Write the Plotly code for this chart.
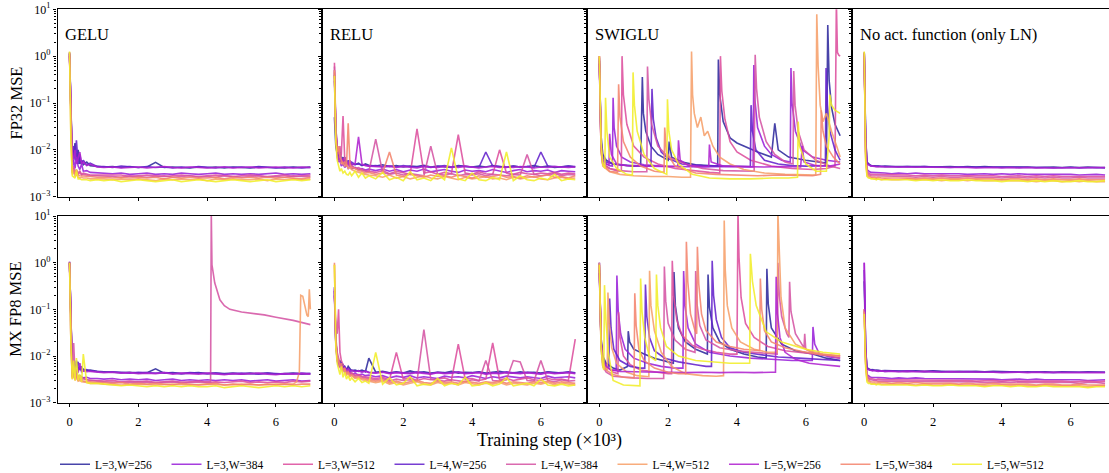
import plotly.graph_objects as go

# ---------------- labels / styling data ----------------
SERIES = ["L=3,W=256", "L=3,W=384", "L=3,W=512", "L=4,W=256", "L=4,W=384",
          "L=4,W=512", "L=5,W=256", "L=5,W=384", "L=5,W=512"]
COLORS = ["#2f2b9e", "#9a22da", "#dd4f9e", "#6422cc", "#d555a4",
          "#f7a06a", "#b023d0", "#f4856e", "#f2ee2a"]
PANEL_TITLES = ["GELU", "RELU", "SWIGLU", "No act. function (only LN)"]
ROW_TITLES = ["FP32 MSE", "MX FP8 MSE"]
X_TITLE = "Training step (×10³)"
X_TICKS = [0, 2, 4, 6]
Y_TICK_VALS = [1e-3, 1e-2, 1e-1, 1e0, 1e1]
Y_TICK_TEXT = ["10<sup>−3</sup>", "10<sup>−2</sup>", "10<sup>−1</sup>", "10<sup>0</sup>", "10<sup>1</sup>"]
Y_MINOR = [m * 10.0 ** e for e in (-3, -2, -1, 0) for m in range(2, 10)]
UNIT = 1e-3  # all MSE values below are stored in units of 1e-3

# ---------------- x grids (training step, x1e3) ----------------
XF = [0, 0.04, 0.08, 0.12, 0.16, 0.2, 0.25, 0.3, 0.35, 0.4, 0.5, 0.6, 0.8,
      1.0, 1.25, 1.5, 1.75, 2.0, 2.25, 2.5, 2.75, 3.0, 3.25, 3.5, 3.75, 4.0,
      4.25, 4.5, 4.75, 5.0, 5.25, 5.5, 5.75, 6.0, 6.25, 6.5, 6.75, 7.0]
XR = [0, 0.04, 0.08, 0.12, 0.16, 0.2, 0.25, 0.3, 0.35, 0.4, 0.45, 0.5, 0.6, 0.7, 0.8, 0.9, 1.0,
      1.2, 1.4, 1.6, 1.8, 2.0, 2.2, 2.4, 2.6, 2.8, 3.0, 3.2, 3.4, 3.6, 3.8, 4.0, 4.2, 4.4,
      4.6, 4.8, 5.0, 5.2, 5.4, 5.6, 5.8, 6.0, 6.2, 6.4, 6.6, 6.8, 7.0]

# ---------------- GELU FP32 (x = XF) ----------------
GELU_FP32 = [
    [1200, 50, 6, 9, 14, 6, 10, 5, 6, 4.8, 5.5, 4.6, 4.4,
     4.3, 4.4, 4.2, 4.4, 4.2, 4.3, 5.4, 4.2, 4.3, 4.2, 4.1, 4.3, 4.2, 4.3, 4.1, 4.3, 4.2, 4.1, 4.3, 4.2, 4.2, 4.1, 4.3, 4.2, 4.3],
    [1150, 30, 4, 6, 4, 7, 4.5, 3.8, 5, 3.5, 3.6, 3.3, 3.2,
     3.2, 3.1, 3.2, 3.0, 3.1, 3.2, 3.0, 3.1, 3.0, 3.2, 3.1, 3.0, 3.1, 3.2, 3.0, 3.1, 3.0, 3.1, 3.0, 3.1, 3.2, 3.0, 3.1, 3.0, 3.1],
    [1200, 25, 3.6, 4.5, 3.3, 3.8, 3.2, 3.5, 3.0, 3.2, 3.0, 2.9, 2.9,
     2.9, 2.8, 2.9, 2.7, 2.8, 2.9, 2.8, 2.7, 2.8, 2.9, 2.8, 2.7, 2.8, 2.9, 2.8, 2.7, 2.8, 2.9, 2.8, 2.7, 2.8, 2.9, 2.7, 2.8, 2.9],
    [1100, 40, 5, 12, 6, 16, 5, 8, 5, 6, 4.7, 5.2, 4.4,
     4.4, 4.2, 4.5, 4.3, 4.2, 4.4, 4.2, 4.3, 4.1, 4.3, 4.2, 4.4, 4.2, 4.1, 4.3, 4.2, 4.3, 4.2, 4.4, 4.2, 4.1, 4.3, 4.2, 4.1, 4.2],
    [1100, 22, 3.4, 4, 3.2, 3.6, 3.0, 3.3, 2.9, 3.0, 2.9, 2.8, 2.8,
     2.8, 2.7, 2.6, 2.8, 2.7, 2.6, 2.7, 2.8, 2.6, 2.7, 2.8, 2.6, 2.7, 2.6, 2.8, 2.7, 2.6, 2.7, 2.8, 2.6, 2.7, 2.6, 2.8, 2.7, 2.7],
    [1200, 18, 3.0, 3.4, 2.7, 3.0, 2.6, 2.5, 2.6, 2.5, 2.5, 2.4, 2.4,
     2.4, 2.3, 2.4, 2.3, 2.4, 2.3, 2.2, 2.4, 2.3, 2.4, 2.3, 2.4, 2.2, 2.4, 2.3, 2.4, 2.3, 2.3, 2.4, 2.2, 2.4, 2.3, 2.4, 2.3, 2.4],
    [1000, 35, 5.5, 7, 10, 5, 7, 9, 5, 5.5, 4.6, 4.9, 4.3,
     4.2, 4.3, 4.1, 4.2, 4.3, 4.1, 4.2, 4.4, 4.2, 4.1, 4.3, 4.2, 4.1, 4.2, 4.3, 4.1, 4.2, 4.3, 4.1, 4.2, 4.3, 4.2, 4.1, 4.3, 4.2],
    [1000, 20, 3.2, 3.8, 3.0, 3.4, 2.9, 2.8, 2.8, 2.7, 2.7, 2.7, 2.6,
     2.6, 2.5, 2.6, 2.5, 2.6, 2.5, 2.6, 2.4, 2.6, 2.5, 2.6, 2.5, 2.5, 2.6, 2.4, 2.6, 2.5, 2.6, 2.5, 2.6, 2.5, 2.6, 2.5, 2.4, 2.6],
    [1250, 15, 2.8, 2.6, 2.5, 3.8, 2.4, 2.4, 2.3, 2.3, 2.3, 2.2, 2.3,
     2.2, 2.3, 2.1, 2.2, 2.3, 2.2, 2.1, 2.2, 2.3, 2.1, 2.2, 2.3, 2.2, 2.1, 2.2, 2.3, 2.2, 2.1, 2.2, 2.3, 2.1, 2.2, 2.3, 2.2, 2.3],
]

# ---------------- GELU MX FP8 (x = XF, except series 5 and 6) ----------------
GELU8_S5_X = XF[:13] + [1.0, 1.5, 2.0, 2.5, 3.0, 3.5, 4.0, 4.1, 4.12, 4.14, 4.22, 4.3, 4.37,
                        4.5, 4.66, 5.0, 5.33, 5.66, 6.0, 6.5, 7.0]
GELU8_S6_X = XF[:13] + [1.0, 1.5, 2.0, 2.5, 3.0, 3.5, 4.0, 4.5, 5.0, 5.5, 6.0, 6.5, 6.6,
                        6.68, 6.72, 6.78, 6.84, 6.9, 6.94, 6.97, 7.0]
GELU_FP8 = [
    [1000, 40, 5, 7, 4.6, 8, 5, 6, 4.8, 5.2, 4.9, 5.0, 4.7,
     4.6, 4.5, 4.4, 4.5, 4.3, 4.4, 5.3, 4.3, 4.4, 4.2, 4.3, 4.4, 4.2, 4.3, 4.2, 4.3, 4.1, 4.3, 4.2, 4.3, 4.1, 4.2, 4.3, 4.1, 4.2],
    [1000, 25, 3.8, 5, 3.6, 4.5, 3.5, 3.8, 3.6, 3.4, 3.5, 3.3, 3.3,
     3.2, 3.3, 3.1, 3.2, 3.1, 3.2, 3.0, 3.1, 3.2, 3.0, 3.1, 3.0, 3.1, 3.0, 3.1, 3.0, 3.1, 2.9, 3.0, 3.1, 2.9, 3.0, 3.1, 2.9, 3.0],
    [1050, 22, 3.6, 4.4, 3.4, 3.8, 3.3, 3.6, 3.2, 3.3, 3.1, 3.0, 3.0,
     2.9, 3.0, 2.8, 2.9, 2.8, 2.9, 2.7, 2.8, 2.9, 2.7, 2.8, 2.9, 2.7, 2.8, 2.7, 2.8, 2.9, 2.7, 2.8, 2.7, 2.8, 2.7, 2.9, 2.8, 2.9],
    [1050, 35, 4.5, 8, 5, 6.5, 7.5, 5, 6, 4.9, 5.1, 4.8, 4.6,
     4.5, 4.6, 4.4, 4.3, 4.5, 4.4, 4.3, 4.4, 4.3, 4.2, 4.4, 4.3, 4.2, 4.3, 4.1, 4.2, 4.3, 4.2, 4.1, 4.3, 4.2, 4.1, 4.2, 4.3, 4.2],
    [1000, 20, 3.6, 19, 4, 5, 3.4, 3.6, 3.2, 3.3, 3.1, 3.0, 2.9,
     2.8, 2.7, 2.8, 2.7, 2.8, 2.7, 2.8, 2.8, 12000, 900, 370, 220, 160, 120, 100, 88, 82, 76, 68, 58, 47],
    [1000, 18, 3.2, 4, 3.0, 3.5, 2.9, 3.0, 2.8, 2.8, 2.7, 2.6, 2.6,
     2.5, 2.4, 2.5, 2.4, 2.5, 2.4, 2.5, 2.4, 2.5, 2.4, 2.5, 2.5, 2.8, 4.5, 200, 190, 120, 75, 70, 270, 100],
    [980, 30, 4.2, 6, 4.5, 5, 4.4, 7, 4.6, 4.8, 4.6, 4.7, 4.5,
     4.4, 4.5, 4.3, 4.4, 4.2, 4.3, 4.2, 4.4, 4.1, 4.3, 4.2, 4.1, 4.3, 4.2, 4.0, 4.2, 4.1, 4.2, 4.3, 4.1, 4.0, 4.2, 4.1, 4.2, 4.1],
    [1000, 20, 3.4, 6, 3.2, 4, 3.0, 3.3, 3.0, 2.9, 2.8, 2.8, 2.7,
     2.7, 2.6, 2.7, 2.5, 2.6, 2.5, 2.6, 2.5, 2.4, 2.6, 2.5, 2.4, 2.5, 2.6, 2.4, 2.5, 2.4, 2.5, 2.4, 2.5, 2.4, 2.5, 2.4, 2.5, 2.5],
    [1000, 18, 3.2, 8, 3.0, 9, 3.0, 4, 2.8, 11, 2.7, 2.6, 2.6,
     2.5, 2.4, 2.3, 2.4, 2.3, 2.2, 2.3, 2.2, 2.3, 2.2, 2.3, 2.2, 2.2, 2.3, 2.1, 2.2, 2.3, 2.2, 2.1, 2.2, 2.3, 2.2, 2.3, 2.2, 2.3],
]

# ---------------- No activation (x = XF) ----------------
NOACT_FP32 = [
    [1200, 20, 5.5, 5.0, 4.8, 4.6, 4.6, 4.5, 4.5, 4.5, 4.4, 4.5, 4.4,
     4.4, 4.5, 4.4, 4.4, 4.3, 4.4, 4.4, 4.3, 4.4, 4.3, 4.4, 4.3, 4.3, 4.4, 4.3, 4.3, 4.2, 4.3, 4.3, 4.2, 4.3, 4.2, 4.3, 4.2, 4.2],
    [1150, 12, 3.8, 3.5, 3.4, 3.3, 3.3, 3.2, 3.3, 3.2, 3.2, 3.2, 3.1,
     3.2, 3.1, 3.2, 3.1, 3.1, 3.2, 3.1, 3.1, 3.0, 3.1, 3.1, 3.0, 3.1, 3.0, 3.1, 3.0, 3.0, 3.1, 3.0, 3.0, 3.0, 2.9, 3.0, 3.0, 2.9],
    [1200, 10, 3.4, 3.2, 3.1, 3.0, 3.0, 2.9, 3.0, 2.9, 2.9, 2.9, 2.9,
     2.9, 2.9, 2.8, 2.9, 2.8, 2.9, 2.8, 2.8, 2.9, 2.8, 2.8, 2.8, 2.7, 2.8, 2.8, 2.7, 2.8, 2.7, 2.8, 2.7, 2.7, 2.8, 2.7, 2.7, 2.7],
    [1100, 18, 5.2, 4.9, 4.7, 4.6, 4.5, 4.5, 4.4, 4.5, 4.4, 4.4, 4.4,
     4.3, 4.4, 4.3, 4.4, 4.3, 4.3, 4.2, 4.3, 4.3, 4.2, 4.3, 4.2, 4.3, 4.2, 4.2, 4.3, 4.2, 4.2, 4.1, 4.2, 4.2, 4.1, 4.2, 4.2, 4.1],
    [1100, 9, 3.2, 3.0, 2.9, 2.8, 2.8, 2.8, 2.7, 2.8, 2.7, 2.7, 2.7,
     2.7, 2.7, 2.6, 2.7, 2.6, 2.7, 2.6, 2.6, 2.7, 2.6, 2.6, 2.6, 2.5, 2.6, 2.6, 2.5, 2.6, 2.5, 2.6, 2.5, 2.5, 2.6, 2.5, 2.5, 2.5],
    [1200, 7, 2.8, 2.6, 2.5, 2.5, 2.4, 2.4, 2.4, 2.4, 2.3, 2.4, 2.3,
     2.3, 2.4, 2.3, 2.3, 2.3, 2.2, 2.3, 2.3, 2.2, 2.3, 2.2, 2.2, 2.3, 2.2, 2.2, 2.2, 2.1, 2.2, 2.2, 2.1, 2.2, 2.1, 2.2, 2.1, 2.1],
    [1000, 16, 5.0, 4.8, 4.6, 4.5, 4.5, 4.4, 4.4, 4.3, 4.4, 4.3, 4.3,
     4.3, 4.3, 4.2, 4.3, 4.2, 4.2, 4.3, 4.2, 4.2, 4.1, 4.2, 4.2, 4.1, 4.2, 4.1, 4.2, 4.1, 4.1, 4.2, 4.1, 4.1, 4.2, 4.1, 4.1, 4.2],
    [1000, 8, 3.0, 2.8, 2.7, 2.6, 2.6, 2.6, 2.5, 2.6, 2.5, 2.5, 2.5,
     2.5, 2.5, 2.4, 2.5, 2.4, 2.5, 2.4, 2.4, 2.5, 2.4, 2.4, 2.4, 2.3, 2.4, 2.4, 2.3, 2.4, 2.3, 2.4, 2.3, 2.3, 2.4, 2.3, 2.3, 2.3],
    [1250, 6, 2.7, 2.5, 2.5, 2.4, 2.4, 2.4, 2.3, 2.4, 2.3, 2.3, 2.3,
     2.3, 2.3, 2.2, 2.3, 2.2, 2.3, 2.2, 2.2, 2.3, 2.2, 2.2, 2.2, 2.1, 2.2, 2.2, 2.1, 2.2, 2.1, 2.2, 2.1, 2.1, 2.2, 2.1, 2.1, 2.2],
]
NOACT_FP8 = [
    [400, 15, 5.6, 5.4, 5.2, 5.0, 5.1, 4.9, 5.0, 4.9, 4.8, 4.9, 4.8,
     4.8, 4.7, 4.8, 4.7, 4.8, 4.7, 4.6, 4.7, 4.6, 4.7, 4.6, 4.7, 4.6, 4.6, 4.5, 4.6, 4.5, 4.6, 4.5, 4.6, 4.5, 4.5, 4.6, 4.5, 4.5],
    [1000, 10, 4.0, 3.7, 3.6, 3.5, 3.5, 3.4, 3.5, 3.4, 3.4, 3.4, 3.3,
     3.4, 3.3, 3.4, 3.3, 3.3, 3.3, 3.2, 3.3, 3.2, 3.3, 3.2, 3.2, 3.1, 3.2, 3.2, 3.1, 3.2, 3.1, 3.1, 3.2, 3.1, 3.1, 3.0, 3.1, 3.1],
    [100, 9, 3.7, 3.4, 3.3, 3.3, 3.2, 3.2, 3.1, 3.2, 3.1, 3.1, 3.1,
     3.1, 3.1, 3.0, 3.1, 3.0, 3.0, 3.1, 3.0, 3.0, 2.9, 3.0, 3.0, 2.9, 3.0, 2.9, 2.9, 3.0, 2.9, 2.9, 2.9, 2.8, 2.9, 2.9, 2.8, 2.9],
    [700, 14, 5.4, 5.2, 5.0, 5.1, 4.9, 5.0, 4.8, 4.9, 4.8, 4.7, 4.8,
     4.7, 4.8, 4.7, 4.6, 4.7, 4.6, 4.7, 4.6, 4.7, 4.6, 4.5, 4.6, 4.5, 4.6, 4.5, 4.5, 4.6, 4.5, 4.4, 4.5, 4.5, 4.4, 4.5, 4.4, 4.5],
    [100, 8, 3.5, 3.2, 3.1, 3.1, 3.0, 3.0, 3.0, 2.9, 2.9, 2.9, 2.9,
     2.9, 2.9, 2.8, 2.9, 2.8, 2.8, 2.9, 2.8, 2.8, 2.8, 2.7, 2.8, 2.8, 2.7, 2.8, 2.7, 2.7, 2.8, 2.7, 2.7, 2.7, 2.6, 2.7, 2.7, 2.6],
    [100, 7, 3.0, 2.8, 2.7, 2.6, 2.6, 2.6, 2.5, 2.6, 2.5, 2.5, 2.5,
     2.5, 2.5, 2.4, 2.5, 2.4, 2.4, 2.5, 2.4, 2.4, 2.4, 2.3, 2.4, 2.4, 2.3, 2.4, 2.3, 2.3, 2.4, 2.3, 2.3, 2.3, 2.3, 2.2, 2.3, 2.3],
    [1000, 13, 5.3, 5.1, 5.0, 4.9, 4.8, 4.9, 4.8, 4.7, 4.8, 4.7, 4.7,
     4.6, 4.7, 4.6, 4.7, 4.6, 4.5, 4.6, 4.6, 4.5, 4.6, 4.5, 4.5, 4.4, 4.5, 4.5, 4.4, 4.5, 4.4, 4.5, 4.4, 4.4, 4.5, 4.4, 4.4, 4.4],
    [90, 7, 3.2, 3.0, 2.9, 2.8, 2.8, 2.8, 2.7, 2.7, 2.7, 2.7, 2.6,
     2.7, 2.6, 2.7, 2.6, 2.6, 2.6, 2.6, 2.5, 2.6, 2.5, 2.5, 2.6, 2.5, 2.5, 2.5, 2.5, 2.4, 2.5, 2.5, 2.4, 2.4, 2.5, 2.4, 2.4, 2.4],
    [80, 6, 2.8, 2.6, 2.6, 2.5, 2.5, 2.5, 2.4, 2.5, 2.4, 2.4, 2.4,
     2.4, 2.4, 2.3, 2.4, 2.3, 2.3, 2.4, 2.3, 2.3, 2.3, 2.2, 2.3, 2.3, 2.2, 2.3, 2.2, 2.2, 2.3, 2.2, 2.2, 2.2, 2.2, 2.1, 2.2, 2.2],
]

# ---------------- RELU (x = XR) ----------------
RELU_FP32 = [
    [50, 12, 8, 6.5, 9, 5.5, 7, 5, 6, 4.8, 5.5, 5, 4.8, 5.2, 4.6, 5, 4.7,
     4.5, 4.8, 4.4, 4.6, 4.3, 4.5, 4.4, 4.7, 4.3, 4.5, 4.4, 4.2, 4.6, 4.4, 4.3,
     4.5, 4.3, 4.6, 4.4, 4.2, 4.5, 4.3, 4.4, 4.6, 4.3, 4.5, 4.2, 4.4, 4.5, 4.3],
    [500, 20, 7, 5.5, 6, 4.5, 5, 4.2, 4.8, 4, 4.5, 3.9, 4.2, 3.8, 4, 3.7, 3.9,
     3.6, 3.9, 3.5, 3.8, 3.4, 3.7, 3.5, 3.9, 3.4, 3.6, 3.8, 3.5, 3.3, 3.7, 3.5,
     3.6, 3.4, 3.8, 3.5, 3.3, 3.6, 3.8, 3.4, 3.6, 3.5, 3.7, 3.3, 3.6, 3.5, 3.4],
    [720, 30, 12, 9, 7, 8, 53, 6, 4.5, 5, 4.2, 4.5, 4, 4.2, 3.8, 3.6, 3.5,
     3.3, 3.6, 3.1, 3.5, 3.2, 3.0, 28, 3.2, 3.4, 3.0, 3.3, 3.1, 21, 3.2, 3.0,
     3.4, 3.1, 3.0, 10, 3.2, 3.0, 3.3, 3.1, 3.0, 3.2, 3.1, 3.3, 3.0, 3.2, 3.1],
    [400, 30, 10, 7, 8, 6, 5.5, 7, 5, 6, 4.8, 5.5, 4.9, 5, 4.7, 4.8, 4.5,
     4.6, 4.4, 4.5, 4.3, 4.6, 4.4, 4.3, 4.5, 4.2, 4.4, 4.6, 4.3, 4.5, 4.4, 4.3,
     4.2, 9, 4.5, 4.4, 4.3, 4.5, 4.3, 4.4, 4.2, 9, 4.5, 4.4, 4.3, 4.5, 4.4],
    [600, 25, 10, 8, 12, 6, 5.5, 7, 4.8, 5, 4.3, 4.6, 4, 3.8, 3.6, 3.5, 3.4,
     17, 3.3, 3.0, 3.2, 2.9, 3.1, 3.0, 2.8, 12, 3.0, 2.9, 3.1, 2.8, 3.0, 2.9,
     3.1, 2.8, 3.0, 2.9, 2.8, 3.0, 2.9, 8, 3.0, 2.8, 2.9, 3.1, 2.8, 3.0, 2.9],
    [500, 20, 8, 6, 7, 5, 5.5, 4.5, 4.8, 4, 4.2, 3.8, 3.5, 3.3, 3.1, 3.0, 2.9,
     2.8, 2.6, 2.9, 2.5, 2.7, 2.4, 2.6, 2.8, 2.5, 2.4, 2.7, 2.5, 2.3, 2.6, 2.4,
     2.5, 2.7, 2.4, 2.5, 2.3, 2.6, 2.4, 2.5, 2.7, 2.4, 2.3, 2.5, 2.6, 2.4, 2.5],
    [300, 25, 9, 6, 7, 5.5, 6.5, 5, 5.5, 5, 6, 4.8, 5, 19, 5, 4.6, 4.5,
     4.4, 4.3, 4.5, 4.2, 4.4, 4.3, 4.1, 4.4, 4.3, 4.2, 4.4, 4.3, 4.2, 4.5, 4.3,
     4.1, 4.3, 4.4, 4.2, 4.3, 4.2, 4.4, 4.3, 4.1, 4.3, 4.2, 4.4, 4.3, 4.2, 4.3],
    [450, 22, 9, 12, 7, 6, 5, 5.5, 4.5, 37, 5, 4.2, 4, 3.6, 3.5, 3.2, 3.3,
     3.0, 3.2, 9, 2.9, 2.7, 3.0, 2.8, 2.6, 2.9, 2.7, 2.8, 2.6, 2.9, 2.7, 2.5,
     2.8, 2.6, 2.7, 2.9, 2.6, 2.7, 2.5, 2.8, 2.6, 2.7, 2.9, 2.6, 2.7, 2.5, 2.8],
    [380, 15, 6, 4.5, 3.5, 4, 3.2, 3.5, 3, 2.9, 3.3, 2.8, 3.5, 2.6, 3.2, 2.5, 2.8,
     2.4, 3.3, 2.3, 2.6, 2.2, 3.4, 2.3, 2.5, 2.2, 3.0, 2.3, 11, 2.4, 2.2, 3.2,
     2.3, 2.2, 2.6, 2.3, 9, 2.2, 2.8, 2.3, 2.2, 2.5, 2.3, 3.0, 2.2, 2.4, 2.3],
]
RELU_FP8 = [
    [250, 20, 10, 7, 8, 6, 6.5, 5.5, 5, 6, 5.2, 4.8, 5, 4.7, 5, 4.6, 9,
     4.5, 4.7, 4.4, 4.6, 4.3, 4.8, 4.4, 4.6, 4.3, 4.5, 4.4, 4.7, 4.3, 4.5, 4.4,
     4.6, 4.3, 4.5, 4.7, 4.4, 4.3, 4.6, 4.4, 4.5, 4.3, 4.6, 4.4, 4.3, 4.6, 4.4],
    [200, 18, 8, 6, 7, 5, 5.5, 4.5, 5, 4.2, 4.6, 4, 4.3, 3.9, 4.1, 3.8, 3.9,
     3.6, 3.8, 3.4, 3.7, 3.5, 3.8, 3.4, 3.6, 3.5, 3.3, 3.7, 3.5, 3.6, 3.4, 3.8,
     3.5, 3.3, 3.6, 3.4, 3.7, 3.5, 3.4, 3.6, 3.5, 3.3, 3.7, 3.4, 3.5, 3.6, 3.4],
    [190, 40, 30, 100, 12, 8, 6.5, 5, 4.6, 4.8, 4.2, 4.4, 3.9, 4, 3.7, 3.6, 3.5,
     3.3, 3.5, 3.1, 12, 3.2, 3.4, 3.0, 3.3, 3.1, 3.2, 3.4, 3.0, 18, 3.2, 3.3,
     3.0, 3.2, 19, 3.1, 3.3, 3.0, 3.2, 3.4, 3.1, 3.0, 3.3, 3.1, 3.2, 3.0, 23],
    [300, 22, 9, 8, 6.5, 7, 5.5, 6, 5.2, 5.5, 4.8, 5, 4.7, 4.9, 4.6, 4.8, 4.5,
     4.4, 4.6, 4.3, 4.5, 4.4, 4.3, 4.6, 4.4, 4.2, 4.5, 4.3, 4.4, 4.6, 4.3, 4.4,
     4.5, 4.2, 4.4, 4.3, 4.6, 4.4, 4.3, 4.5, 4.4, 4.2, 4.5, 4.3, 4.4, 4.5, 4.3],
    [250, 25, 12, 9, 7, 6, 5, 5.5, 4.4, 4.6, 4, 4.2, 3.7, 3.8, 3.5, 3.4, 3.3,
     3.1, 3.3, 2.9, 3.2, 3.0, 3.1, 2.9, 37, 3.2, 3.0, 2.9, 3.1, 3.0, 2.8, 3.1,
     2.9, 8, 3.0, 2.9, 3.1, 8, 7.5, 3.0, 2.9, 8, 3.0, 2.8, 3.1, 2.9, 3.0],
    [900, 18, 9, 7, 5.5, 6, 4.6, 5, 3.9, 4.2, 3.6, 3.8, 3.3, 3.4, 3.1, 3.0, 2.9,
     2.7, 2.9, 2.5, 2.7, 2.4, 2.6, 2.8, 2.5, 2.4, 2.7, 2.5, 2.6, 2.4, 2.7, 2.5,
     2.4, 2.6, 2.5, 2.7, 2.4, 2.6, 2.5, 2.4, 2.6, 2.5, 2.7, 2.4, 2.6, 2.5, 2.4],
    [280, 20, 8, 7, 6, 6.5, 5.2, 5.6, 4.9, 5.3, 4.7, 4.9, 4.6, 4.8, 4.5, 4.7, 4.4,
     4.3, 4.5, 4.2, 4.4, 4.3, 4.2, 4.4, 4.3, 4.1, 4.4, 4.2, 4.3, 4.5, 4.2, 4.3,
     4.4, 4.1, 4.3, 4.2, 4.4, 4.3, 4.2, 4.4, 4.3, 4.1, 4.4, 4.2, 4.3, 4.4, 4.2],
    [1000, 20, 10, 8, 6, 7, 5, 5.5, 4.2, 4.5, 3.8, 4, 3.5, 3.6, 3.3, 3.2, 3.1,
     2.9, 3.1, 2.7, 2.9, 2.6, 2.8, 3.0, 2.7, 2.6, 2.9, 2.7, 2.8, 2.6, 2.9, 2.7,
     2.6, 2.8, 2.7, 2.9, 2.6, 2.8, 2.7, 2.6, 2.8, 2.7, 2.9, 2.6, 2.8, 2.7, 2.6],
    [900, 15, 7, 5, 4, 6, 3.5, 4.5, 3.2, 3.8, 3.0, 3.4, 2.8, 3.3, 2.7, 2.9, 2.6,
     12, 2.5, 3.4, 2.4, 2.6, 3.6, 2.3, 2.5, 2.4, 3.3, 2.3, 2.6, 2.4, 3.5, 2.3,
     2.4, 2.7, 2.3, 2.5, 3.4, 2.3, 2.4, 2.6, 2.3, 3.2, 2.4, 2.3, 2.5, 2.3, 2.4],
]

# ---------------- SWIGLU FP32 (per-series x) ----------------
SWIGLU_FP32_X = [
    [0, 0.05, 0.1, 0.2, 0.4, 0.6, 0.8, 1.0, 1.2, 1.25, 1.28, 1.35, 1.5, 1.7, 2.0, 2.03, 2.1, 2.4, 2.8,
     3.2, 3.44, 3.46, 3.5, 3.6, 3.8, 4.0, 4.3, 4.6, 5.0, 5.1, 5.2, 5.5, 6.0, 6.3, 6.6, 6.64, 6.68, 6.75, 6.85, 7.0],
    [0, 0.05, 0.1, 0.2, 0.3, 0.38, 0.4, 0.43, 0.5, 0.65, 0.9, 1.3, 1.8, 2.5, 3.0, 3.5, 4.0, 4.47, 4.49, 4.52,
     4.6, 4.8, 5.0, 5.3, 5.55, 5.57, 5.6, 5.7, 5.9, 6.2, 6.6, 7.0],
    [0, 0.05, 0.1, 0.3, 0.5, 0.64, 0.66, 0.7, 0.8, 1.0, 1.3, 1.7, 2.2, 2.8, 3.2, 3.5, 3.52, 3.56, 3.65, 3.8,
     4.0, 4.4, 5.0, 5.6, 6.2, 6.6, 6.85, 6.89, 6.92, 6.96, 7.0],
    [0, 0.05, 0.1, 0.2, 0.4, 0.7, 1.0, 1.3, 1.5, 1.53, 1.57, 1.65, 1.8, 2.0, 2.4, 3.0, 3.6, 4.0, 4.39, 4.41,
     4.45, 4.55, 4.8, 5.2, 5.6, 6.0, 6.3, 6.57, 6.59, 6.63, 6.7, 6.85, 7.0],
    [0, 0.05, 0.1, 0.3, 0.6, 1.0, 1.38, 1.4, 1.44, 1.52, 1.7, 2.0, 2.5, 3.0, 3.6, 4.0, 4.5, 4.53, 4.57, 4.65,
     4.85, 5.1, 5.4, 5.63, 5.65, 5.69, 5.78, 5.95, 6.3, 6.7, 7.0],
    [0, 0.05, 0.1, 0.3, 0.6, 1.0, 1.5, 2.0, 2.4, 2.65, 2.68, 2.71, 2.76, 2.85, 2.95, 3.05, 3.15, 3.3, 3.5, 3.8,
     4.2, 4.8, 5.4, 6.0, 6.29, 6.32, 6.36, 6.42, 6.5, 6.6, 6.75, 6.9, 7.0],
    [0, 0.05, 0.1, 0.2, 0.28, 0.3, 0.35, 0.5, 0.8, 1.2, 1.8, 2.28, 2.3, 2.35, 2.6, 3.0, 3.18, 3.2, 3.25, 3.6,
     4.2, 4.8, 5.3, 5.85, 5.9, 5.95, 6.3, 6.7, 7.0],
    [0, 0.05, 0.1, 0.3, 0.53, 0.56, 0.6, 0.7, 0.9, 1.2, 1.6, 1.88, 1.9, 1.95, 2.2, 2.8, 3.4, 4.0, 4.6, 5.2,
     5.8, 6.2, 6.43, 6.45, 6.5, 6.6, 6.8, 7.0],
    [0, 0.05, 0.1, 0.16, 0.18, 0.22, 0.3, 0.5, 0.8, 0.96, 0.98, 1.02, 1.1, 1.3, 1.6, 1.96, 1.98, 2.02, 2.1, 2.3,
     2.7, 3.2, 3.8, 4.4, 5.0, 5.5, 5.76, 5.78, 5.82, 6.0, 6.3, 6.6, 6.68, 6.7, 6.75, 6.85, 7.0],
]
SWIGLU_FP32_Y = [
    [800, 20, 8, 6, 5, 4.8, 4.6, 4.5, 4.6, 360, 60, 25, 12, 8, 6, 15, 7, 5.5, 4.8,
     4.6, 4.5, 850, 150, 40, 18, 14, 11, 9, 7, 37, 10, 7, 6, 5.5, 5.2, 4600, 300, 80, 35, 20],
    [1000, 15, 6, 5, 4.6, 4.5, 130, 30, 12, 7, 5.5, 4.8, 4.5, 4.4, 4.3, 4.4, 4.3, 4.3, 650, 120,
     30, 12, 8, 6, 5.5, 560, 100, 25, 10, 7, 6, 5.5],
    [1000, 12, 5, 4, 3.6, 3.5, 1000, 150, 35, 12, 7, 5, 4, 3.5, 3.3, 3.2, 1000, 180, 45, 15,
     9, 6, 4.5, 4, 3.8, 4, 4.5, 15000, 1200, 1050, 1000],
    [900, 14, 7, 5.5, 5, 4.7, 4.6, 4.5, 4.5, 200, 45, 18, 9, 6.5, 5, 4.6, 4.5, 4.4, 4.4, 90,
     25, 10, 6, 5, 4.6, 4.5, 4.6, 4.6, 560, 90, 25, 10, 6],
    [800, 10, 5, 4, 3.6, 3.4, 3.4, 600, 120, 35, 12, 7, 5, 4, 3.6, 3.5, 3.5, 1070, 200, 50,
     15, 8, 5.5, 5, 480, 90, 25, 10, 6, 4.5, 4],
    [1000, 9, 4.5, 3.4, 3, 2.8, 2.7, 2.7, 2.6, 2.6, 1260, 150, 60, 30, 50, 20, 25, 12, 7, 5,
     3.8, 3.2, 3.0, 2.9, 2.9, 7800, 600, 90, 40, 60, 25, 12, 7],
    [700, 12, 6, 5, 4.8, 22, 8, 5, 4.6, 4.5, 4.4, 4.4, 16, 6, 4.6, 4.4, 4.4, 13, 5.5, 4.5,
     4.4, 4.3, 4.4, 4.3, 12, 5.5, 4.6, 4.5, 5],
    [1000, 10, 5, 3.5, 3.3, 250, 50, 15, 7, 4.5, 3.5, 3.3, 30, 9, 4.5, 3.2, 3.0, 2.9, 2.8, 2.9,
     2.8, 2.8, 3.0, 70, 25, 12, 7, 5],
    [1000, 15, 5, 4, 130, 25, 7, 4, 3, 2.9, 450, 90, 25, 8, 4, 3, 120, 25, 10, 5,
     3, 2.5, 2.4, 2.4, 2.5, 2.5, 2.6, 40, 12, 5, 3.5, 3.5, 20, 150, 90, 70, 60],
]

# ---------------- SWIGLU MX FP8 (per-series x) ----------------
SWIGLU_FP8_X = [
    [0, 0.05, 0.1, 0.2, 0.4, 0.6, 0.82, 0.84, 0.88, 1.0, 1.3, 1.6, 2.0, 2.15, 2.17, 2.21, 2.3, 2.5, 2.8, 3.0,
     3.14, 3.16, 3.2, 3.3, 3.5, 3.8, 4.2, 4.6, 4.85, 4.87, 4.91, 5.0, 5.3, 5.7, 6.2, 6.6, 7.0],
    [0, 0.05, 0.1, 0.2, 0.35, 0.49, 0.51, 0.55, 0.62, 0.75, 1.0, 1.4, 1.8, 2.2, 2.43, 2.45, 2.49, 2.58, 2.8, 3.2,
     3.8, 4.4, 5.0, 5.6, 6.0, 6.19, 6.21, 6.26, 6.4, 6.7, 7.0],
    [0, 0.05, 0.1, 0.2, 0.4, 0.54, 0.56, 0.6, 0.7, 0.9, 1.2, 1.6, 2.0, 2.1, 2.12, 2.16, 2.25, 2.4, 2.7, 3.0,
     3.4, 3.8, 4.0, 4.03, 4.06, 4.12, 4.25, 4.5, 4.9, 5.4, 6.0, 6.5, 7.0],
    [0, 0.05, 0.1, 0.2, 0.28, 0.3, 0.34, 0.42, 0.6, 0.9, 1.2, 1.32, 1.34, 1.38, 1.46, 1.6, 1.9, 2.3, 2.8, 3.1,
     3.26, 3.28, 3.32, 3.4, 3.55, 3.8, 4.2, 4.7, 5.2, 5.8, 6.4, 7.0],
    [0, 0.05, 0.1, 0.2, 0.4, 0.7, 1.0, 1.4, 1.87, 1.89, 1.93, 2.0, 2.2, 2.5, 2.78, 2.8, 2.84, 2.92, 3.1, 3.5,
     4.0, 4.5, 5.0, 5.17, 5.19, 5.23, 5.3, 5.45, 5.51, 5.53, 5.57, 5.7, 5.95, 5.97, 6.0, 6.3, 6.7, 7.0],
    [0, 0.05, 0.1, 0.23, 0.25, 0.29, 0.36, 0.5, 0.8, 1.1, 1.44, 1.46, 1.5, 1.6, 1.8, 2.1, 2.5, 3.0, 3.4, 3.61,
     3.63, 3.66, 3.72, 3.85, 4.1, 4.5, 4.9, 5.17, 5.19, 5.22, 5.28, 5.4, 5.7, 6.1, 6.5, 7.0],
    [0, 0.05, 0.1, 0.2, 0.35, 0.6, 1.0, 1.5, 2.0, 2.5, 3.0, 3.5, 4.0, 4.5, 5.0, 5.12, 5.14, 5.18, 5.25, 5.4,
     5.7, 6.1, 6.5, 7.0],
    [0, 0.05, 0.1, 0.2, 0.4, 0.7, 1.01, 1.03, 1.07, 1.15, 1.3, 1.6, 2.0, 2.3, 2.51, 2.53, 2.57, 2.65, 2.78, 2.83,
     2.85, 2.89, 2.97, 3.1, 3.4, 3.8, 4.2, 4.66, 4.68, 4.72, 4.8, 5.0, 5.4, 5.9, 6.4, 7.0],
    [0, 0.05, 0.1, 0.13, 0.15, 0.19, 0.26, 0.4, 0.7, 1.0, 1.18, 1.2, 1.24, 1.32, 1.45, 1.64, 1.66, 1.7, 1.78, 1.95,
     2.3, 2.8, 3.3, 3.8, 4.2, 4.37, 4.39, 4.45, 4.56, 4.85, 5.3, 6.0, 6.5, 7.0],
]
SWIGLU_FP8_Y = [
    [700, 25, 10, 7, 5.5, 5, 6, 34, 20, 14, 11, 9, 7.5, 7, 630, 120, 40, 20, 14, 12,
     11, 560, 110, 40, 20, 14, 11, 9.5, 9, 740, 130, 40, 18, 13, 11, 9, 8],
    [1000, 20, 8, 6, 5, 5, 530, 90, 30, 14, 9, 7, 6, 5.5, 5.5, 660, 120, 40, 18, 12,
     10, 9, 8.5, 8, 8, 8, 42, 18, 11, 9.5, 9],
    [900, 20, 9, 6, 4.5, 4.2, 87, 25, 10, 6.5, 5, 4.5, 4.2, 4.2, 1100, 200, 60, 28, 17, 14,
     12, 11, 11, 12000, 1300, 180, 50, 25, 16, 13, 11.5, 10.5, 10],
    [1000, 22, 9, 6.5, 6, 170, 40, 14, 8, 6, 5.5, 5.5, 340, 70, 25, 13, 9, 7.5, 6.5, 6,
     6, 1100, 200, 60, 25, 15, 12, 10.5, 9.5, 9, 8.5, 8],
    [800, 15, 6, 4.5, 3.7, 3.5, 3.4, 3.3, 3.3, 830, 150, 50, 22, 14, 12, 660, 130, 45, 22, 15,
     13, 12, 11, 11, 1000, 200, 70, 30, 25, 390, 90, 30, 15, 30, 14, 11, 10, 9],
    [1000, 18, 7, 5, 230, 50, 15, 7, 4.5, 3.8, 3.6, 670, 120, 35, 12, 6, 4.2, 3.8, 3.7, 3.8,
     8000, 700, 120, 40, 20, 14, 12, 12, 12000, 2000, 180, 40, 18, 13, 11, 10],
    [600, 20, 8, 6, 5, 4.7, 4.6, 4.5, 4.5, 4.4, 4.5, 4.4, 4.5, 4.4, 4.5, 4.5, 500, 80, 25, 12,
     8.5, 7, 6.5, 6],
    [900, 18, 7, 5, 4, 3.5, 3.4, 220, 45, 14, 8, 5.5, 4.5, 4.2, 4.2, 2800, 400, 80, 35, 30,
     2200, 350, 80, 35, 20, 16, 14, 13, 460, 100, 35, 20, 15, 12.5, 11, 10],
    [900, 15, 6, 5, 330, 60, 12, 3, 2.4, 2.3, 2.3, 460, 90, 25, 10, 8, 560, 120, 40, 16,
     10, 8, 7.5, 7, 7, 7, 1550, 400, 120, 33, 20, 14, 12, 11],
]

# ---------------- assemble ----------------
PANELS = [
    (0, 0, [XF] * 9, GELU_FP32),
    (0, 1, [XR] * 9, RELU_FP32),
    (0, 2, SWIGLU_FP32_X, SWIGLU_FP32_Y),
    (0, 3, [XF] * 9, NOACT_FP32),
    (1, 0, [XF, XF, XF, XF, GELU8_S5_X, GELU8_S6_X, XF, XF, XF], GELU_FP8),
    (1, 1, [XR] * 9, RELU_FP8),
    (1, 2, SWIGLU_FP8_X, SWIGLU_FP8_Y),
    (1, 3, [XF] * 9, NOACT_FP8),
]

W, H = 1109, 473
COL_LEFT = [57.5, 322.4, 587.3, 852.2]
COL_W = 264.9
ROW_TOP = [9.3, 216.0]
ROW_BOT = [196.7, 402.7]
X_RANGE = [-0.35, 7.35]
PX_PER_UNIT = COL_W / (X_RANGE[1] - X_RANGE[0])

fig = go.Figure()
FONT = "Liberation Serif"

layout = dict(
    width=W, height=H, autosize=False,
    margin=dict(l=0, r=0, t=0, b=0, autoexpand=False),
    paper_bgcolor="white", plot_bgcolor="white",
    font=dict(family=FONT, color="black", size=12),
    showlegend=True,
    legend=dict(orientation="h", x=55 / W, xanchor="left", y=-0.012, yanchor="bottom",
                entrywidth=66.5, entrywidthmode="pixels", font=dict(size=11.5, family=FONT),
                bgcolor="rgba(0,0,0,0)", tracegroupgap=0, itemwidth=30),
)
annotations = []

for row, col, xs_list, ys_list in PANELS:
    k = row * 4 + col + 1
    xa = "x" if k == 1 else f"x{k}"
    ya = "y" if k == 1 else f"y{k}"
    left = COL_LEFT[col]
    right = min(left + COL_W, W)
    xr_right = X_RANGE[0] + (right - left) / PX_PER_UNIT
    for i in range(9):
        xs = xs_list[i]
        ys = ys_list[i]
        n = min(len(xs), len(ys))
        fig.add_trace(go.Scatter(
            x=xs[:n], y=[v * UNIT for v in ys[:n]], mode="lines",
            name=SERIES[i], legendgroup=SERIES[i], showlegend=(k == 1),
            line=dict(color=COLORS[i], width=1.6), opacity=0.88,
            xaxis=xa, yaxis=ya, hoverinfo="skip",
        ))
    layout["xaxis" if k == 1 else f"xaxis{k}"] = dict(
        domain=[left / W, right / W], anchor=ya, range=[X_RANGE[0], xr_right],
        tickmode="array", tickvals=X_TICKS, ticks="outside", ticklen=3.5, tickwidth=1,
        tickcolor="black", showticklabels=(row == 1), tickfont=dict(size=12.5, family=FONT),
        ticklabelstandoff=4,
        showline=True, linecolor="black", linewidth=1.3, mirror=True,
        showgrid=False, zeroline=False,
    )
    layout["yaxis" if k == 1 else f"yaxis{k}"] = dict(
        domain=[1 - ROW_BOT[row] / H, 1 - ROW_TOP[row] / H], anchor=xa,
        type="log", range=[-3, 1],
        tickmode="array", tickvals=Y_TICK_VALS, ticktext=Y_TICK_TEXT,
        ticks="outside", ticklen=3.5, tickwidth=1, tickcolor="black",
        minor=dict(tickmode="array", tickvals=Y_MINOR, ticks="outside", ticklen=2,
                   tickwidth=0.8, tickcolor="black", showgrid=False),
        showticklabels=(col == 0), tickfont=dict(size=12, family=FONT),
        showline=True, linecolor="black", linewidth=1.3, mirror=(col < 3),
        showgrid=False, zeroline=False,
    )
    if row == 0:
        annotations.append(dict(
            text=PANEL_TITLES[col], x=(left + 5.5) / W, y=1 - 35 / H,
            xref="paper", yref="paper", xanchor="left", yanchor="middle",
            showarrow=False, font=dict(size=16.5, family=FONT, color="black")))
    if col == 0:
        annotations.append(dict(
            text=ROW_TITLES[row], x=15.5 / W, y=1 - (ROW_TOP[row] + ROW_BOT[row]) / 2 / H,
            xref="paper", yref="paper", xanchor="center", yanchor="middle", textangle=-90,
            showarrow=False, font=dict(size=16.5, family=FONT, color="black")))

annotations.append(dict(
    text=X_TITLE, x=549 / W, y=1 - 440 / H, xref="paper", yref="paper",
    xanchor="center", yanchor="middle", showarrow=False,
    font=dict(size=18, family=FONT, color="black")))
layout["annotations"] = annotations

fig.update_layout(**layout)
fig.write_html("out.html")
